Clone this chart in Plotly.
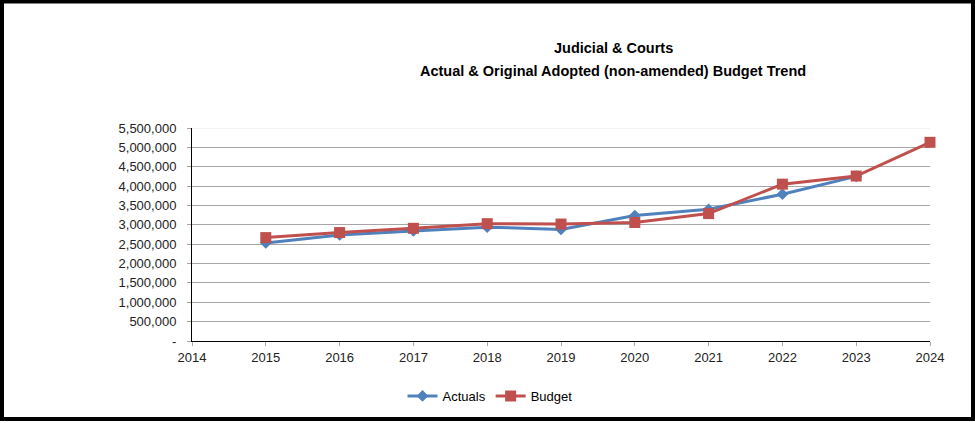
import plotly.graph_objects as go

# Fiscal years and dollar amounts
years_actual = [2015, 2016, 2017, 2018, 2019, 2020, 2021, 2022, 2023]
actuals = [2530000, 2740000, 2840000, 2940000, 2880000, 3240000, 3400000, 3790000, 4250000]

years_budget = [2015, 2016, 2017, 2018, 2019, 2020, 2021, 2022, 2023, 2024]
budget = [2670000, 2800000, 2910000, 3030000, 3020000, 3060000, 3290000, 4050000, 4260000, 5130000]

y_tickvals = [0, 500000, 1000000, 1500000, 2000000, 2500000, 3000000,
              3500000, 4000000, 4500000, 5000000, 5500000]
y_ticktext = ["-", "500,000", "1,000,000", "1,500,000", "2,000,000", "2,500,000",
              "3,000,000", "3,500,000", "4,000,000", "4,500,000", "5,000,000", "5,500,000"]
x_tickvals = list(range(2014, 2025))

FONT = "Liberation Sans, Arial, sans-serif"

# Plot-area geometry in pixels, used to place the frame and titles in paper units
W, H = 975, 423
L, R, T, B = 192, 45, 128, 82
PW, PH = W - L - R, H - T - B


def px_x(px):
    return (px - L) / PW


def px_y(py):
    return (H - B - py) / PH


fig = go.Figure()
fig.add_trace(go.Scatter(
    x=years_actual, y=actuals, name="Actuals", mode="lines+markers",
    line=dict(color="#4F81BD", width=3),
    marker=dict(symbol="diamond", size=9, color="#4F81BD"),
    cliponaxis=False,
))
fig.add_trace(go.Scatter(
    x=years_budget, y=budget, name="Budget", mode="lines+markers",
    line=dict(color="#C0504D", width=3),
    marker=dict(symbol="square", size=11, color="#C0504D"),
    cliponaxis=False,
))

fig.update_layout(
    width=W, height=H,
    margin=dict(l=L, r=R, t=T, b=B),
    paper_bgcolor="white", plot_bgcolor="white",
    font=dict(family=FONT, size=13, color="#222222"),
    showlegend=True,
    legend=dict(orientation="h", x=px_x(490), y=px_y(396),
                xanchor="center", yanchor="middle",
                font=dict(family=FONT, size=13, color="black"),
                itemwidth=30, tracegroupgap=0, bgcolor="rgba(0,0,0,0)"),
    xaxis=dict(
        range=[2014, 2024], tickvals=x_tickvals, ticktext=[str(v) for v in x_tickvals],
        showgrid=False, showline=True, linecolor="black", linewidth=1,
        ticks="outside", ticklen=4, tickcolor="#a6a6a6", zeroline=False,
    ),
    yaxis=dict(
        range=[0, 5500000], tickvals=y_tickvals, ticktext=y_ticktext,
        showgrid=True, gridcolor="#a6a6a6", gridwidth=1,
        showline=True, linecolor="black", linewidth=1,
        ticks="outside", ticklen=4, tickcolor="#a6a6a6", zeroline=False,
        ticklabelstandoff=8,
    ),
    annotations=[
        dict(text="<b>Judicial & Courts</b>", x=px_x(613), y=px_y(48),
             xref="paper", yref="paper", showarrow=False,
             xanchor="center", yanchor="middle",
             font=dict(family=FONT, size=14.5, color="black")),
        dict(text="<b>Actual & Original Adopted (non-amended) Budget Trend</b>",
             x=px_x(613), y=px_y(71), xref="paper", yref="paper", showarrow=False,
             xanchor="center", yanchor="middle",
             font=dict(family=FONT, size=14.5, color="black")),
    ],
    shapes=[
        # lighter top gridline
        dict(type="line", xref="paper", yref="y", x0=0, x1=1, y0=5500000, y1=5500000,
             line=dict(color="#e8e8e8", width=1), layer="below"),
        # outer black frame
        dict(type="rect", xref="paper", yref="paper",
             x0=px_x(2), x1=px_x(973), y0=px_y(419), y1=px_y(1.5),
             line=dict(color="black", width=4), fillcolor="rgba(0,0,0,0)"),
    ],
)

fig.write_html("out.html")
